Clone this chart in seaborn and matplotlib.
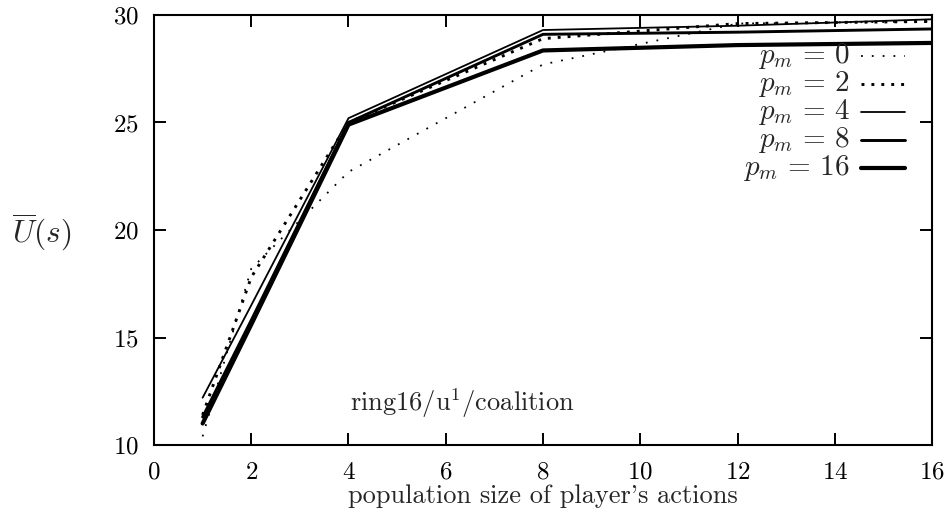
import numpy as np
import pandas as pd
import matplotlib
matplotlib.use("Agg")
import matplotlib.pyplot as plt
import seaborn as sns

# data
actions = [1, 2, 4, 8, 12, 16]
pm_labels = ["0", "2", "4", "8", "16"]
u_pm0 = [10.4, 18.2, 22.7, 27.7, 29.6, 29.7]
u_pm2 = [11.4, 17.8, 25.0, 28.9, 29.6, 29.7]
u_pm4 = [12.2, 16.5, 25.2, 29.3, 29.5, 29.8]
u_pm8 = [11.3, 15.8, 25.0, 29.1, 29.2, 29.35]
u_pm16 = [11.0, 15.6, 24.9, 28.35, 28.6, 28.7]
x_ticks = [0, 2, 4, 6, 8, 10, 12, 14, 16]
y_ticks = [10, 15, 20, 25, 30]

series = [u_pm0, u_pm2, u_pm4, u_pm8, u_pm16]
styles = [
    dict(lw=1.3, ls=(0, (1, 5))),
    dict(lw=2.1, ls=(0, (1, 2.4))),
    dict(lw=1.3, ls="-"),
    dict(lw=2.1, ls="-"),
    dict(lw=3.0, ls="-"),
]

sns.set_style("ticks")
plt.rcParams["font.family"] = ["cmr10", "DejaVu Serif"]
plt.rcParams["mathtext.fontset"] = "cm"
plt.rcParams["axes.formatter.use_mathtext"] = True

fig = plt.figure(figsize=(9.47, 5.2), dpi=100)
ax = fig.add_axes([0.1626, 0.1442, 0.8216, 0.827])

for lab, vals, st in zip(pm_labels, series, styles):
    df = pd.DataFrame({"actions": actions, "u": vals})
    sns.lineplot(data=df, x="actions", y="u", ax=ax, color="black",
                 linewidth=st["lw"], linestyle=st["ls"], errorbar=None,
                 legend=False)

ax.set_xlim(0, 16)
ax.set_ylim(10, 30)
ax.set_xticks(x_ticks)
ax.set_yticks(y_ticks)
ax.tick_params(direction="in", length=8.5, width=1.4, top=True, right=True,
               labelsize=18, colors="black")
ax.tick_params(axis="x", pad=12)
ax.tick_params(axis="y", pad=11)
for sp in ax.spines.values():
    sp.set_linewidth(1.5)
    sp.set_color("black")

ax.set_xlabel("population size of player's actions", fontsize=19, labelpad=0)
ax.set_ylabel(r"$\overline{U}(s)$", fontsize=22.5, rotation=0)
ax.yaxis.set_label_coords(-0.144, 0.495, transform=ax.transAxes)
ax.yaxis.label.set_verticalalignment("center")

ax.text(4.03, 11.95, r"ring16/u$^1$/coalition", fontsize=19, va="center")

# gnuplot-style key: right-aligned labels, sample line on the right
for i, (lab, st) in enumerate(zip(pm_labels, styles)):
    yy = 0.905 - i * 0.065
    ax.text(0.895, yy, rf"$p_m\,=\,{lab}$", transform=ax.transAxes,
            ha="right", va="center", fontsize=21)
    ax.plot([0.909, 0.965], [yy, yy], transform=ax.transAxes, color="black",
            linewidth=st["lw"], linestyle=st["ls"])

fig.savefig("out.png", dpi=100)
